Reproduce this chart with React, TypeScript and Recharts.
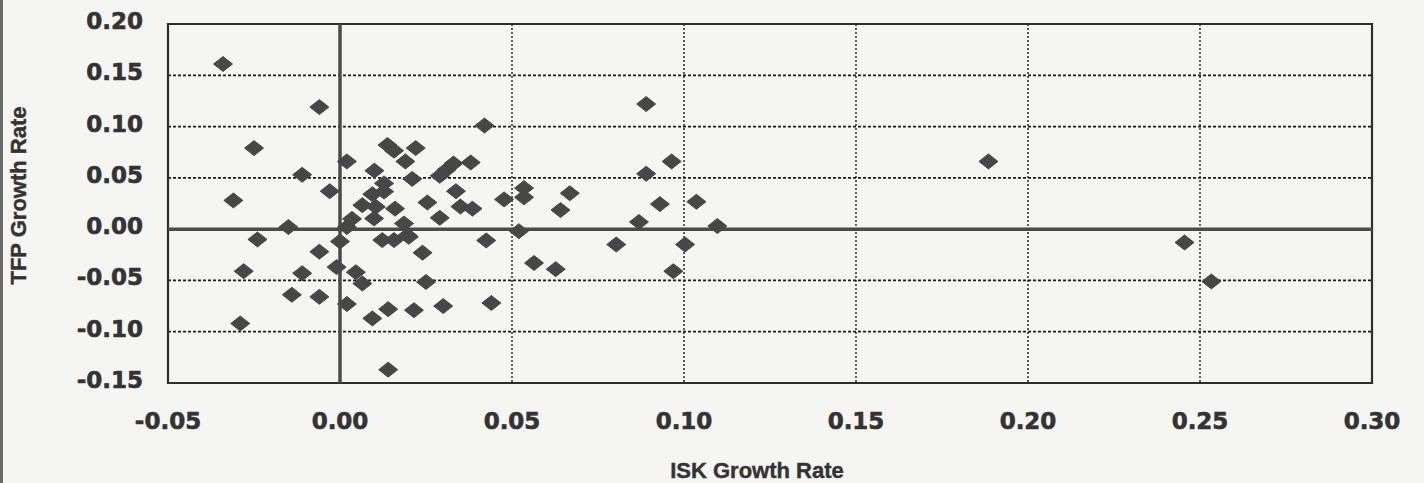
import {
  ScatterChart,
  Scatter,
  XAxis,
  YAxis,
  CartesianGrid,
  ReferenceLine,
  ReferenceArea,
  Label,
} from "recharts";

// ISK growth rate (x) against TFP growth rate (y), one pair per observation
const iskGrowth = [
  -0.034, -0.006, -0.025, -0.011, -0.031, -0.003, -0.015, -0.024, -0.006, -0.028,
  -0.011, -0.014, -0.006, -0.029, -0.001, 0.0, 0.002, 0.002, 0.002, 0.0035,
  0.0046, 0.0065, 0.0094, 0.014, 0.014, 0.042, 0.0138, 0.0157, 0.022, 0.019,
  0.01, 0.021, 0.0128, 0.0128, 0.0094, 0.033, 0.031, 0.029, 0.038, 0.0337,
  0.035, 0.0385, 0.0254, 0.016, 0.029, 0.0065, 0.0104, 0.0099, 0.0186, 0.0196,
  0.0123, 0.0157, 0.02, 0.024, 0.0425, 0.025, 0.0215, 0.03, 0.044, 0.0477,
  0.0535, 0.0535, 0.0668, 0.0641, 0.052, 0.0564, 0.0627, 0.089, 0.0964, 0.089,
  0.093, 0.1036, 0.0869, 0.1097, 0.0803, 0.1003, 0.0969, 0.1885, 0.2455, 0.2533,
];

const tfpGrowth = [
  0.161, 0.119, 0.079, 0.053, 0.028, 0.037, 0.002, -0.01, -0.022, -0.041,
  -0.043, -0.064, -0.066, -0.092, -0.037, -0.012, -0.073, 0.066, 0.002, 0.01,
  -0.042, -0.053, -0.087, -0.078, -0.137, 0.101, 0.082, 0.0765, 0.079, 0.066,
  0.057, 0.049, 0.0446, 0.0366, 0.034, 0.064, 0.058, 0.052, 0.065, 0.037,
  0.022, 0.02, 0.026, 0.02, 0.011, 0.0234, 0.0218, 0.0104, 0.0055, -0.006,
  -0.0107, -0.0107, -0.0075, -0.023, -0.011, -0.0515, -0.079, -0.075, -0.072, 0.029,
  0.04, 0.031, 0.035, 0.0186, -0.002, -0.033, -0.039, 0.122, 0.066, 0.054,
  0.0244, 0.0267, 0.007, 0.003, -0.015, -0.015, -0.041, 0.066, -0.013, -0.051,
];

const xTicks = [-0.05, 0, 0.05, 0.1, 0.15, 0.2, 0.25, 0.3];
const yTicks = [-0.15, -0.1, -0.05, 0, 0.05, 0.1, 0.15, 0.2];

const points = iskGrowth.map((x, i) => ({ x, y: tfpGrowth[i] }));

const INK = "#333333";
const MARK = "#474747";
const PAPER = "#f5f5f2";
const TICK_FONT = "'DejaVu Sans', sans-serif";
const TITLE_FONT = "'Liberation Sans', Arial, sans-serif";

// flat diamond marker, a bit wider than tall
function Diamond(props: any) {
  const { cx, cy } = props;
  if (cx == null || cy == null) return null;
  const w = 9.5;
  const h = 7.5;
  return (
    <polygon
      points={`${cx - w},${cy} ${cx},${cy - h} ${cx + w},${cy} ${cx},${cy + h}`}
      fill={MARK}
      stroke={MARK}
      strokeWidth={1}
      strokeLinejoin="round"
    />
  );
}

// heavy label text, slightly stroked so it reads like thick print
const tickText = {
  fontFamily: TICK_FONT,
  fontWeight: "bold" as const,
  fontSize: 23,
  fill: INK,
  stroke: INK,
  strokeWidth: 0.6,
};

function XTick({ x, y, payload }: any) {
  return (
    <text x={x} y={y + 44} textAnchor="middle" {...tickText}>
      {payload.value.toFixed(2)}
    </text>
  );
}

function YTick({ x, y, payload }: any) {
  return (
    <text x={x} y={y + 5} textAnchor="end" {...tickText}>
      {payload.value.toFixed(2)}
    </text>
  );
}

const titleText = {
  fontFamily: TITLE_FONT,
  fontWeight: "bold" as const,
  fontSize: 22,
  fill: INK,
  stroke: INK,
  strokeWidth: 0.4,
};

function YTitle({ viewBox }: any) {
  const cx = 26;
  const cy = viewBox.y + viewBox.height / 2 - 8;
  return (
    <text
      x={cx}
      y={cy}
      transform={`rotate(-90, ${cx}, ${cy})`}
      textAnchor="middle"
      {...titleText}
    >
      TFP Growth Rate
    </text>
  );
}

function XTitle({ viewBox }: any) {
  const cx = viewBox.x + viewBox.width / 2 - 13;
  return (
    <text x={cx} y={478} textAnchor="middle" {...titleText}>
      ISK Growth Rate
    </text>
  );
}

export default function App() {
  return (
    <div
      style={{
        position: "absolute",
        left: 0,
        top: 0,
        width: 1424,
        height: 483,
        background: PAPER,
        overflow: "hidden",
      }}
    >
      {/* page edge on the left */}
      <div
        style={{
          position: "absolute",
          left: 0,
          top: 0,
          width: 3,
          height: 483,
          background: "#6a6a6a",
        }}
      />
      <ScatterChart
        width={1424}
        height={483}
        margin={{ top: 24, right: 52, bottom: 0, left: 0 }}
      >
        <CartesianGrid
          horizontal
          vertical={false}
          stroke="#1a1a1a"
          strokeWidth={1.8}
          strokeDasharray="3 2"
          horizontalValues={yTicks}
        />
        <CartesianGrid
          horizontal={false}
          vertical
          stroke="#1a1a1a"
          strokeWidth={1.4}
          strokeDasharray="2 2"
          verticalValues={xTicks}
        />
        <XAxis
          type="number"
          dataKey="x"
          domain={[-0.05, 0.3]}
          ticks={xTicks}
          interval={0}
          allowDataOverflow
          height={100}
          axisLine={false}
          tickLine={false}
          tickSize={0}
          tick={<XTick />}
        >
          <Label content={<XTitle />} />
        </XAxis>
        <YAxis
          type="number"
          dataKey="y"
          domain={[-0.15, 0.2]}
          ticks={yTicks}
          interval={0}
          allowDataOverflow
          width={168}
          axisLine={false}
          tickLine={false}
          tickSize={0}
          tickMargin={25}
          tick={<YTick />}
        >
          <Label content={<YTitle />} />
        </YAxis>
        <ReferenceLine x={0} stroke="#4a4a4a" strokeWidth={3.5} />
        <ReferenceLine y={0} stroke="#4a4a4a" strokeWidth={3.5} />
        <ReferenceArea
          x1={-0.05}
          x2={0.3}
          y1={-0.15}
          y2={0.2}
          fill="none"
          fillOpacity={0}
          stroke="#2e2e2e"
          strokeWidth={2.2}
        />
        <Scatter
          data={points}
          shape={<Diamond />}
          isAnimationActive={false}
        />
      </ScatterChart>
    </div>
  );
}
